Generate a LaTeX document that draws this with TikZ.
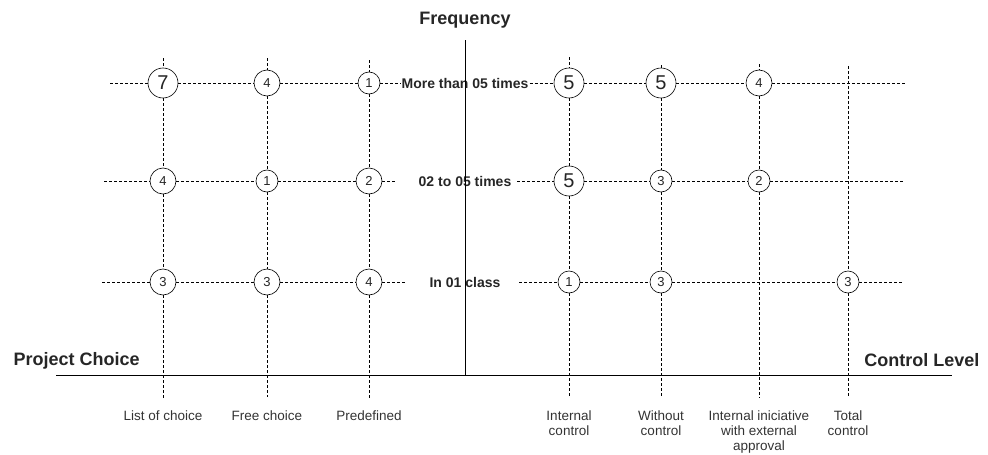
\documentclass[tikz,border=0pt]{standalone}
\usepackage{fontspec}
\setmainfont{Liberation Sans}
\usetikzlibrary{positioning}

\begin{document}
\begin{tikzpicture}[x=1pt, y=-1pt]
			\tikzstyle{Count}	= [circle, draw, fill=white, inner sep=0pt, line width=0.6pt, text=black!85, font=\fontsize{13}{13}\selectfont]
			\tikzstyle{Big}		= [minimum size=30pt, font=\fontsize{20}{20}\selectfont]
			\tikzstyle{Mid}		= [minimum size=26pt]
			\tikzstyle{Small}	= [minimum size=22pt]
			\tikzstyle{Grid}	= [dash pattern=on 3pt off 2pt, line width=0.75pt]
			\tikzstyle{Axis}	= [line width=0.9pt]
			\tikzstyle{Title}	= [text=black!85, font=\bfseries\fontsize{18}{18}\selectfont]
			\tikzstyle{Row}		= [text=black!85, inner sep=1pt, font=\bfseries\fontsize{14}{14}\selectfont]
			\tikzstyle{Item}	= [anchor=north, align=center, text=black!80, font=\fontsize{13.5}{15}\selectfont]

			\useasboundingbox (0,0) rectangle (988,455);

			% titles
			\node (freq) at (465,20) [Title] {Frequency};
			\node (proj) at (10,361) [Title, anchor=west] {Project Choice};
			\node (ctrl) at (983,360) [Title, anchor=east] {Control Level};

			% row labels
			\node (row1) at (465,83) [Row] {More than 05 times};
			\node (row2) at (465,181) [Row] {02 to 05 times};
			\node (row3) at (465,282) [Row] {In 01 class};

			% project choice counts
			\node (c11) at (163,83) [Count][Big] {7};
			\node (c12) at (267,83) [Count][Mid] {4};
			\node (c13) at (369,83) [Count][Small] {1};
			\node (c21) at (163,181) [Count][Mid] {4};
			\node (c22) at (267,181) [Count][Small] {1};
			\node (c23) at (369,181) [Count][Mid] {2};
			\node (c31) at (163,282) [Count][Mid] {3};
			\node (c32) at (267,282) [Count][Mid] {3};
			\node (c33) at (369,282) [Count][Mid] {4};

			% control level counts
			\node (r11) at (569,83) [Count][Big] {5};
			\node (r12) at (661,83) [Count][Big] {5};
			\node (r13) at (759,83) [Count][Mid] {4};
			\node (r21) at (569,181) [Count][Big] {5};
			\node (r22) at (661,181) [Count][Small] {3};
			\node (r23) at (759,181) [Count][Small] {2};
			\node (r31) at (569,282) [Count][Small] {1};
			\node (r32) at (661,282) [Count][Small] {3};
			\node (r33) at (848,282) [Count][Small] {3};

			% free ends of the grid
			\coordinate (h1a) at (110,83);	\coordinate (h1b) at (905,83);
			\coordinate (h2a) at (104,181);	\coordinate (h2b) at (397,181);
			\coordinate (h2c) at (517,181);	\coordinate (h2d) at (903,181);
			\coordinate (h3a) at (102,282);	\coordinate (h3b) at (405,282);
			\coordinate (h3c) at (519,282);	\coordinate (h3d) at (903,282);
			\coordinate (v1a) at (163,58);	\coordinate (v1b) at (163,398);
			\coordinate (v2a) at (267,58);	\coordinate (v2b) at (267,397);
			\coordinate (v3a) at (369,60);	\coordinate (v3b) at (369,400);
			\coordinate (v4a) at (569,57);	\coordinate (v4b) at (569,398);
			\coordinate (v5a) at (661,65);	\coordinate (v5b) at (661,397);
			\coordinate (v6a) at (759,64);	\coordinate (v6b) at (759,398);
			\coordinate (v7a) at (848,66);	\coordinate (v7b) at (848,397);

			\draw (h1a) -- (c11) -- (c12) -- (c13) -- (row1) -- (r11) -- (r12) -- (r13) -- (h1b) [Grid];
			\draw (h2a) -- (c21) -- (c22) -- (c23) -- (h2b) [Grid];
			\draw (h2c) -- (r21) -- (r22) -- (r23) -- (h2d) [Grid];
			\draw (h3a) -- (c31) -- (c32) -- (c33) -- (h3b) [Grid];
			\draw (h3c) -- (r31) -- (r32) -- (r33) -- (h3d) [Grid];

			\draw (v1a) -- (c11) -- (c21) -- (c31) -- (v1b) [Grid];
			\draw (v2a) -- (c12) -- (c22) -- (c32) -- (v2b) [Grid];
			\draw (v3a) -- (c13) -- (c23) -- (c33) -- (v3b) [Grid];
			\draw (v4a) -- (r11) -- (r21) -- (r31) -- (v4b) [Grid];
			\draw (v5a) -- (r12) -- (r22) -- (r32) -- (v5b) [Grid];
			\draw (v6a) -- (r13) -- (r23) -- (v6b) [Grid];
			\draw (v7a) -- (r33) -- (v7b) [Grid];

			% axes
			\coordinate (xa) at (56,375);	\coordinate (xb) at (952,375);
			\coordinate (ya) at (465,40);	\coordinate (o) at (465,375);
			\draw (xa) -- (xb) [Axis];
			\draw (ya) -- (o) [Axis];

			% categories
			\node (list) at (163,407) [Item] {List of choice};
			\node (free) at (267,407) [Item] {Free choice};
			\node (pred) at (369,407) [Item] {Predefined};
			\node (intc) at (569,407) [Item] {Internal\\control};
			\node (woc) at (661,407) [Item] {Without\\control};
			\node (iie) at (759,407) [Item] {Internal iniciative\\with external\\approval};
			\node (tot) at (848,407) [Item] {Total\\control};
\end{tikzpicture}
\end{document}
